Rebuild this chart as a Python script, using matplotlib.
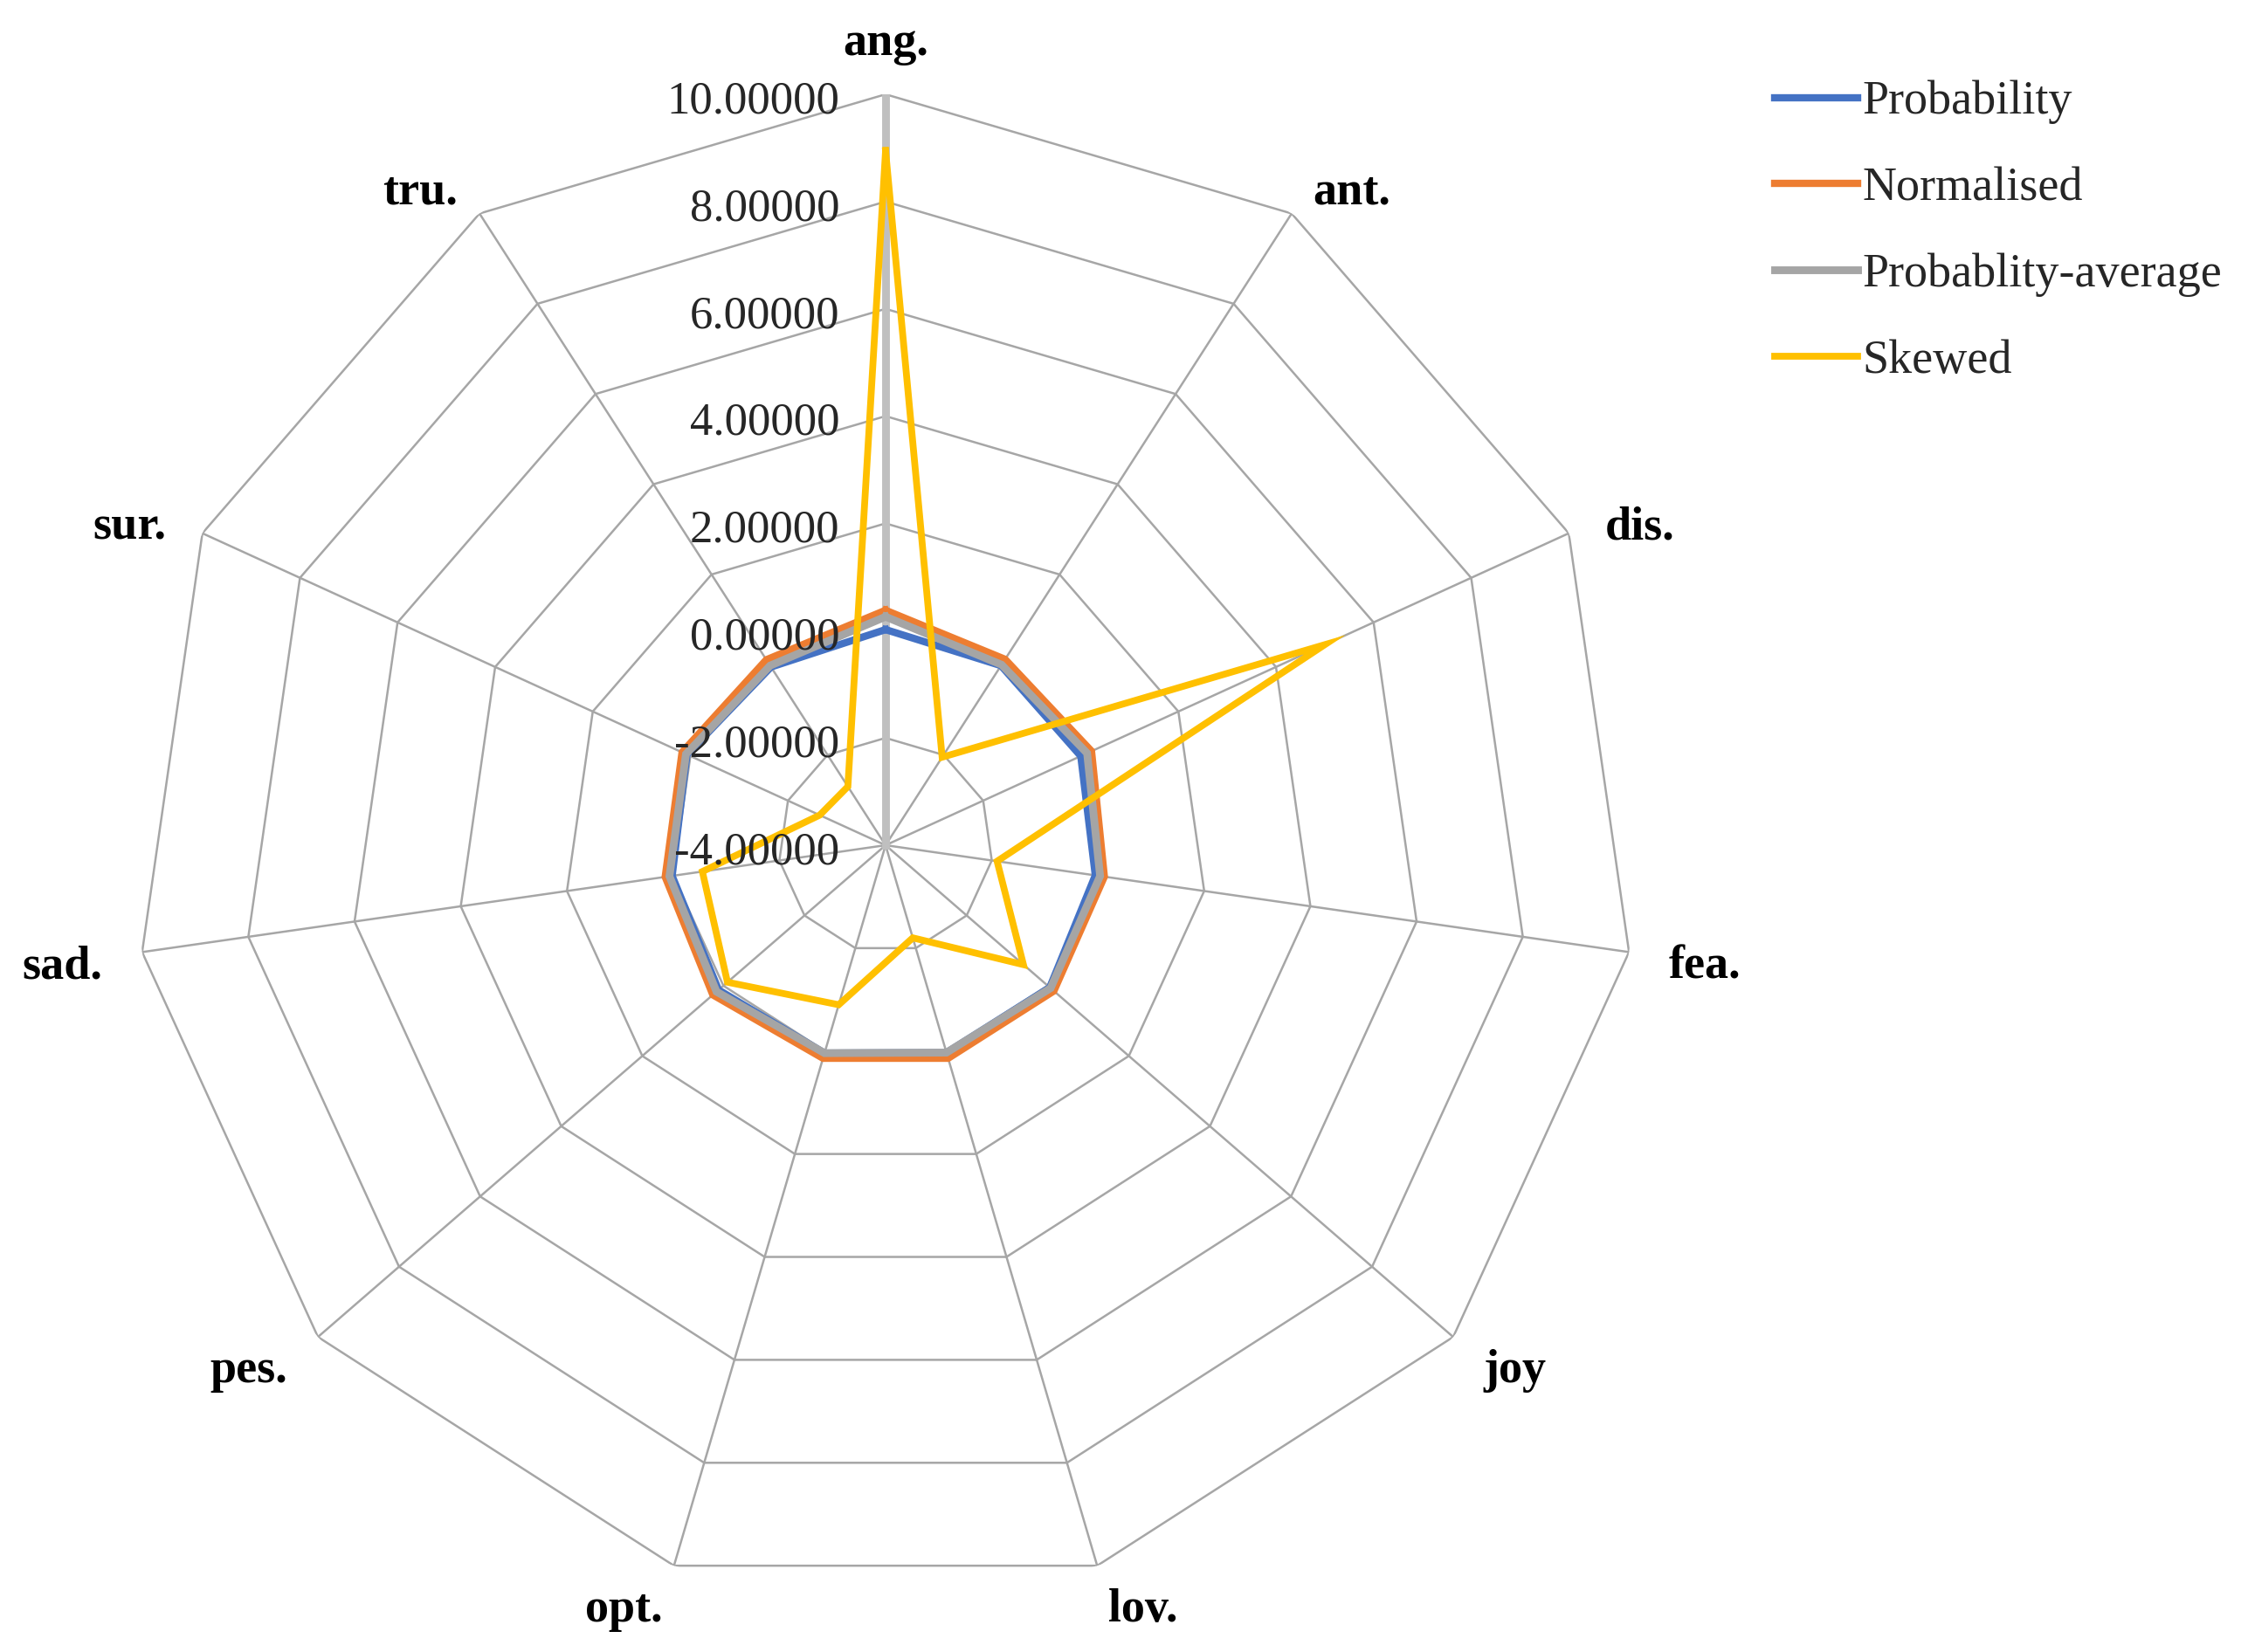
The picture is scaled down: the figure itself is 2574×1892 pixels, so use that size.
import numpy as np
import matplotlib
matplotlib.use("Agg")
import matplotlib.pyplot as plt

categories = ["ang.", "ant.", "dis.", "fea.", "joy", "lov.", "opt.", "pes.", "sad.", "sur.", "tru."]
probability = [0.02, -0.02, 0.00, -0.05, 0.05, 0.03, 0.04, 0.12, 0.02, 0.07, -0.05]
normalised = [0.38, 0.12, 0.22, 0.12, 0.15, 0.14, 0.14, 0.26, 0.15, 0.17, 0.11]
prob_average = [0.26, 0.00, 0.13, 0.04, 0.07, 0.03, 0.04, 0.17, 0.07, 0.09, -0.02]
skewed = [8.95, -2.05, 5.00, -1.90, -0.60, -2.20, -0.90, -0.10, -0.55, -2.65, -2.70]
series_names = ["Probability", "Normalised", "Probablity-average", "Skewed"]
r_ticks = [-4, -2, 0, 2, 4, 6, 8, 10]

colors = ["#4472C4", "#ED7D31", "#A5A5A5", "#FFC000"]
widths = [3.0, 3.0, 3.2, 2.8]
grid_col = "#A6A6A6"
serif = ["Liberation Serif", "DejaVu Serif"]

W, H, DPI = 2574, 1892, 200
fig = plt.figure(figsize=(W / DPI, H / DPI), dpi=DPI)
cx, cy, R = 1014, 968, 860
ax = fig.add_axes([(cx - R) / W, (H - cy - R) / H, 2 * R / W, 2 * R / H], projection="polar")
ax.set_theta_zero_location("N")
ax.set_theta_direction(-1)
ax.set_ylim(r_ticks[0], r_ticks[-1])

n = len(categories)
theta = np.linspace(0, 2 * np.pi, n, endpoint=False)
theta_c = np.append(theta, theta[0])

# polygon grid rings
for v in r_ticks[1:]:
    ax.plot(theta_c, [v] * (n + 1), color=grid_col, lw=0.9, zorder=1, solid_joinstyle="miter")

# spokes
ax.set_xticks(theta)
ax.set_xticklabels([])
ax.xaxis.grid(True, color=grid_col, lw=0.9)
ax.yaxis.grid(False)
ax.set_yticks([])
ax.spines["polar"].set_visible(False)
ax.tick_params(axis="x", length=0)

# value axis along the first spoke
ax.plot([0, 0], [r_ticks[0], r_ticks[-1]], color="#BFBFBF", lw=3.2, zorder=2)

# data series
for vals, name, c, lw in zip([probability, normalised, prob_average, skewed], series_names, colors, widths):
    ax.plot(theta_c, np.append(vals, vals[0]), color=c, lw=lw, label=name, zorder=3,
            solid_joinstyle="miter")

# radial tick labels
for v in r_ticks:
    ax.annotate(f"{v:.5f}", xy=(0, v), xytext=(-19, -3), textcoords="offset points",
                ha="right", va="center", fontsize=19, family=serif, color="#262626",
                zorder=4, annotation_clip=False)

# category labels
d = 16.5
for t, lab in zip(theta, categories):
    s, c = np.sin(t), np.cos(t)
    ha = "left" if s > 0.05 else ("right" if s < -0.05 else "center")
    va = "center"
    off = (d * s, 15 * c - 4)
    if abs(s) < 0.05 and c > 0:
        va = "bottom"
        off = (0, 12)
    ax.annotate(lab, xy=(t, r_ticks[-1]), xytext=off, textcoords="offset points",
                ha=ha, va=va, fontsize=19.5, fontweight="bold", family=serif, color="black",
                annotation_clip=False)

leg = fig.legend(loc="upper left", bbox_to_anchor=(2032 / W, 1 - 92 / H), frameon=False,
                 prop={"family": serif, "size": 19.5}, handlelength=1.75, handletextpad=0.1,
                 labelspacing=0.89, borderpad=0, borderaxespad=0)
for txt in leg.get_texts():
    txt.set_color("#262626")

fig.savefig("out.png", dpi=DPI, facecolor="white")
